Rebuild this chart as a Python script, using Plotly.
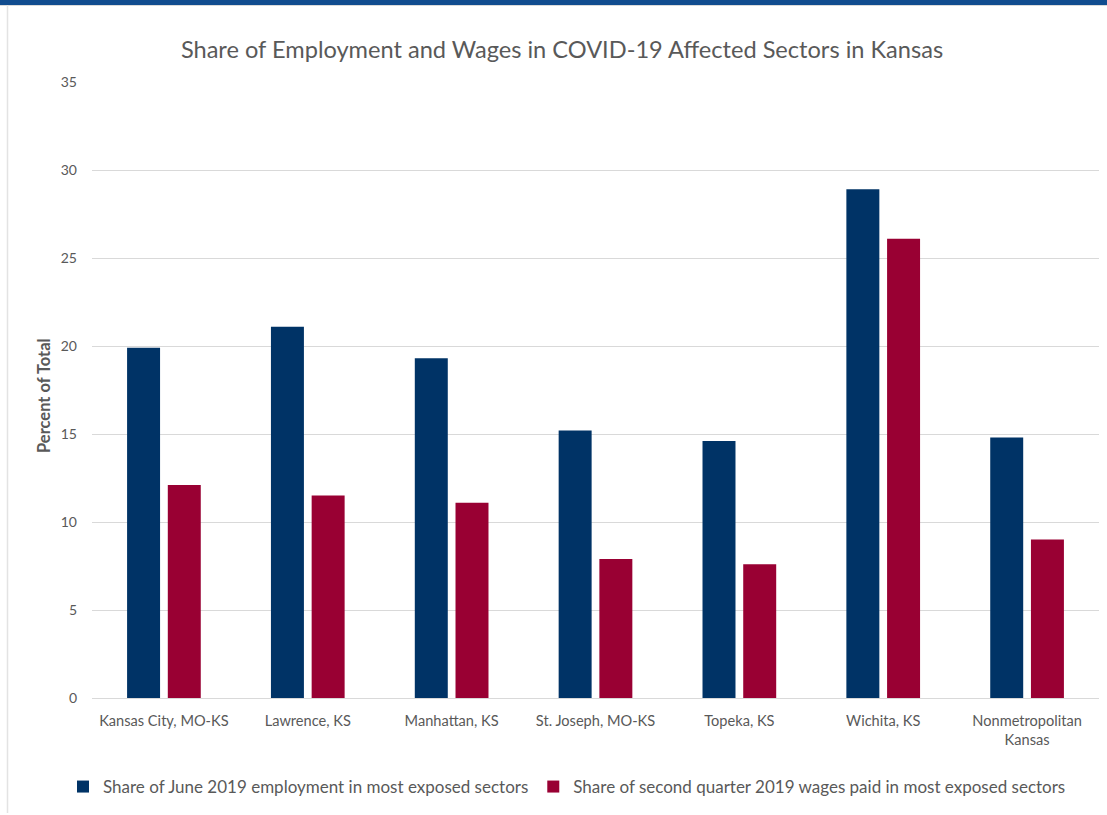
import plotly.graph_objects as go

# Metro areas and their exposure shares (percent of total)
areas = [
    "Kansas City, MO-KS",
    "Lawrence, KS",
    "Manhattan, KS",
    "St. Joseph, MO-KS",
    "Topeka, KS",
    "Wichita, KS",
    "Nonmetropolitan<br>Kansas",
]
employment_share = [19.9, 21.1, 19.3, 15.2, 14.6, 28.9, 14.8]
wage_share = [12.1, 11.5, 11.1, 7.9, 7.6, 26.1, 9.0]

employment_label = "Share of June 2019 employment in most exposed sectors"
wage_label = "Share of second quarter 2019 wages paid in most exposed sectors"

y_ticks = [0, 5, 10, 15, 20, 25, 30, 35]

NAVY = "#003366"
CRIMSON = "#990033"
GREY_TEXT = "#595959"
FONT = "Lato, 'Open Sans', sans-serif"

W, H = 1107, 815
L, R, T, B = 92, 8, 82, 117
PW, PH = W - L - R, H - T - B


def px_x(x):
    return (x - L) / PW


def px_y(y):
    return (H - B - y) / PH


fig = go.Figure()
fig.add_trace(go.Bar(x=areas, y=employment_share, name=employment_label,
                     marker=dict(color=NAVY, line=dict(width=0))))
fig.add_trace(go.Bar(x=areas, y=wage_share, name=wage_label,
                     marker=dict(color=CRIMSON, line=dict(width=0))))

fig.update_layout(
    width=W, height=H,
    margin=dict(l=L, r=R, t=T, b=B, pad=0),
    paper_bgcolor="white", plot_bgcolor="white",
    barmode="group", bargap=0.434, bargroupgap=0.19,
    font=dict(family=FONT, color=GREY_TEXT),
    title=dict(
        text="Share of Employment and Wages in COVID-19 Affected Sectors in Kansas",
        x=562 / W, xanchor="center", y=1 - 50 / H, yanchor="middle",
        font=dict(size=23.6, color=GREY_TEXT, family=FONT),
    ),
    showlegend=True,
    legend=dict(
        orientation="h", x=px_x(567), xanchor="center",
        y=px_y(787), yanchor="middle",
        font=dict(size=17, color=GREY_TEXT, family=FONT),
        traceorder="normal", itemwidth=30,
    ),
)

fig.update_xaxes(
    showgrid=False, showline=False, zeroline=False, ticks="",
    tickfont=dict(size=14.6, color=GREY_TEXT), ticklabelstandoff=12,
)
fig.update_yaxes(
    range=[0, 35], tickvals=y_ticks, showgrid=True, gridcolor="#D9D9D9",
    gridwidth=1, zeroline=True, zerolinecolor="#D9D9D9", zerolinewidth=1,
    showline=False, ticks="", tickfont=dict(size=14, color=GREY_TEXT),
    ticklabelstandoff=14,
)

# Y-axis caption
fig.add_annotation(
    text="<b>Percent of Total</b>", textangle=-90,
    xref="paper", yref="paper", x=px_x(44), y=px_y(396),
    xanchor="center", yanchor="middle", showarrow=False,
    font=dict(size=16.5, color=GREY_TEXT, family=FONT),
)

# Frame: blue band across the top and a thin grey rule on the left
fig.add_shape(type="rect", xref="paper", yref="paper",
              x0=px_x(0), x1=px_x(W), y0=px_y(5), y1=px_y(0),
              fillcolor="#114C8F", line=dict(width=0), layer="above")
fig.add_shape(type="line", xref="paper", yref="paper",
              x0=px_x(0), x1=px_x(W), y0=px_y(5.5), y1=px_y(5.5),
              line=dict(color="#DADADA", width=1))
fig.add_shape(type="line", xref="paper", yref="paper",
              x0=px_x(7.5), x1=px_x(7.5), y0=px_y(5), y1=px_y(813),
              line=dict(color="#E3E3E3", width=1.5))

fig.write_html("out.html")
